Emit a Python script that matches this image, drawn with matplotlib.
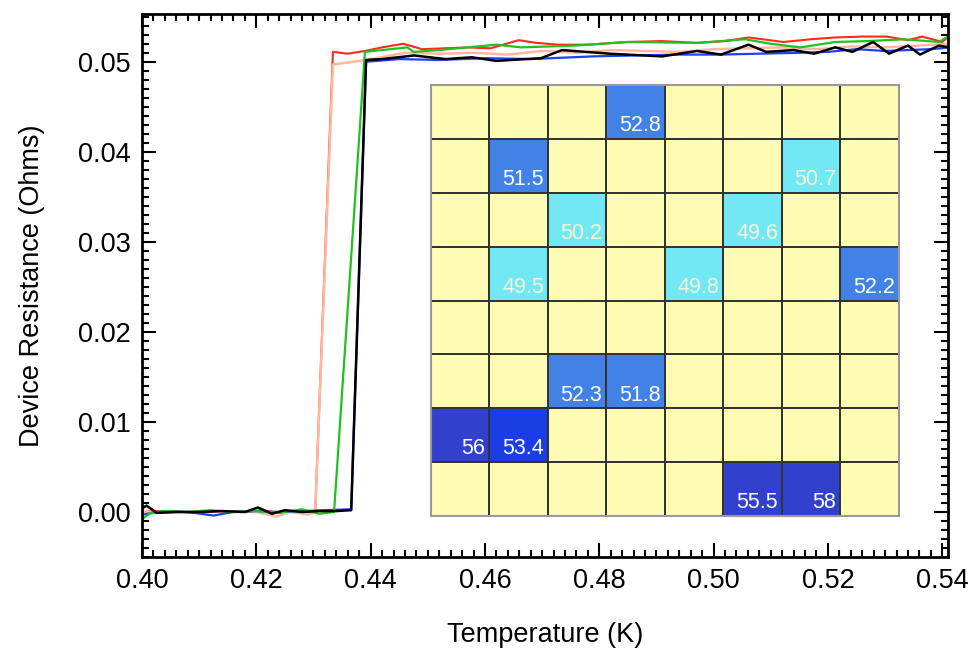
import numpy as np
import matplotlib
matplotlib.use('Agg')
import matplotlib.pyplot as plt
from matplotlib.ticker import MultipleLocator, AutoMinorLocator, FormatStrFormatter
from matplotlib.colors import ListedColormap, BoundaryNorm

plt.rcParams['font.family'] = ['Liberation Sans', 'DejaVu Sans']

# Кривые R(T)
red_x = [0.400, 0.403, 0.406, 0.409, 0.412, 0.415, 0.418, 0.421, 0.424, 0.427, 0.4295, 0.4303,
         0.4334, 0.436, 0.439, 0.442, 0.4457, 0.449, 0.453, 0.457, 0.461, 0.4659, 0.469, 0.4728,
         0.478, 0.4849, 0.491, 0.4971, 0.502, 0.5061, 0.5122, 0.517, 0.5213, 0.526, 0.5303, 0.534,
         0.5365, 0.540, 0.5415]
red_y = [0.0000, 0.0001, 0.0000, -0.0001, 0.0000, 0.0001, 0.0000, 0.0002, -0.0001, 0.0001, 0.0000, 0.0000,
         0.0511, 0.0509, 0.0512, 0.0516, 0.0520, 0.0514, 0.0515, 0.0516, 0.0515, 0.0524, 0.0521, 0.0519,
         0.0519, 0.0522, 0.0523, 0.0521, 0.0523, 0.0527, 0.0522, 0.0525, 0.0527, 0.0528, 0.0528, 0.0524,
         0.0528, 0.0522, 0.0530]

salmon_x = [0.400, 0.404, 0.408, 0.412, 0.416, 0.420, 0.4235, 0.426, 0.429, 0.4303, 0.4334, 0.437,
            0.441, 0.446, 0.452, 0.458, 0.464, 0.470, 0.476, 0.482, 0.488, 0.494, 0.500, 0.506, 0.512,
            0.518, 0.524, 0.530, 0.536, 0.5415]
salmon_y = [0.0000, -0.0001, 0.0000, 0.0001, 0.0000, 0.0000, -0.0005, 0.0000, -0.0003, 0.0000, 0.0497, 0.0500,
            0.0504, 0.0510, 0.0509, 0.0510, 0.0508, 0.0512, 0.0510, 0.0513, 0.0512, 0.0511, 0.0514, 0.0515, 0.0516,
            0.0514, 0.0517, 0.0516, 0.0518, 0.0520]

green_x = [0.400, 0.4015, 0.404, 0.408, 0.412, 0.416, 0.420, 0.424, 0.428, 0.431, 0.4336, 0.4390,
           0.442, 0.4464, 0.4475, 0.452, 0.457, 0.462, 0.4663, 0.4759, 0.4849, 0.4971, 0.5055, 0.5100,
           0.5152, 0.5213, 0.527, 0.5334, 0.5394, 0.5415]
green_y = [-0.0008, -0.0001, 0.0001, 0.0000, 0.0002, 0.0000, 0.0001, -0.0001, 0.0003, -0.0002, 0.0000, 0.0511,
           0.0513, 0.0516, 0.0511, 0.0513, 0.0516, 0.0519, 0.0516, 0.0518, 0.0522, 0.0521, 0.0525, 0.0520,
           0.0516, 0.0522, 0.0523, 0.0525, 0.0522, 0.0530]

blue_x = [0.400, 0.404, 0.408, 0.4125, 0.416, 0.420, 0.424, 0.428, 0.432, 0.4366, 0.4392, 0.445,
          0.452, 0.460, 0.468, 0.4789, 0.486, 0.494, 0.5013, 0.508, 0.5150, 0.520, 0.5250, 0.530,
          0.5380, 0.5415]
blue_y = [-0.0003, 0.0001, 0.0000, -0.0004, 0.0000, 0.0001, 0.0000, 0.0001, 0.0002, 0.0003, 0.0500, 0.0503,
          0.0502, 0.0504, 0.0503, 0.0506, 0.0507, 0.0508, 0.0508, 0.0509, 0.0510, 0.0511, 0.0514, 0.0512,
          0.0514, 0.0516]

black_x = [0.400, 0.4008, 0.4026, 0.406, 0.410, 0.414, 0.418, 0.4203, 0.4227, 0.425, 0.428, 0.431,
           0.434, 0.4366, 0.4392, 0.442, 0.4476, 0.4531, 0.4577, 0.4620, 0.4698, 0.4735, 0.4818, 0.4910,
           0.4971, 0.5013, 0.5061, 0.5092, 0.5140, 0.5176, 0.5213, 0.5243, 0.5279, 0.5307, 0.5340, 0.5361,
           0.5394, 0.5412]
black_y = [0.0004, 0.0007, -0.0001, 0.0000, 0.0000, 0.0001, 0.0000, 0.0005, -0.0002, 0.0002, 0.0000, 0.0001,
           0.0001, 0.0002, 0.0502, 0.0503, 0.0507, 0.0503, 0.0505, 0.0501, 0.0504, 0.0513, 0.0509, 0.0506,
           0.0512, 0.0508, 0.0519, 0.0511, 0.0513, 0.0509, 0.0516, 0.0511, 0.0522, 0.0509, 0.0518, 0.0508,
           0.0518, 0.0516]

# Карта 8x8: (строка сверху, столбец, значение)
map_rows = [0, 1, 1, 2, 2, 3, 3, 3, 5, 5, 6, 6, 7, 7]
map_cols = [3, 1, 6, 2, 5, 1, 4, 7, 2, 3, 0, 1, 5, 6]
map_vals = [52.8, 51.5, 50.7, 50.2, 49.6, 49.5, 49.8, 52.2, 52.3, 51.8, 56, 53.4, 55.5, 58]

fig = plt.figure(figsize=(9.68, 6.51), dpi=100)
ax = fig.add_axes([0.1467, 0.1444, 0.8326, 0.834])

ax.plot(red_x, red_y, color='#ff2a1a', lw=1.5)
ax.plot(salmon_x, salmon_y, color='#ffb8a0', lw=1.8)
ax.plot(blue_x, blue_y, color='#1f3fff', lw=1.6)
ax.plot(green_x, green_y, color='#1fc21f', lw=1.6)
ax.plot(black_x, black_y, color='black', lw=1.8)

ax.set_xlim(0.40, 0.541)
ax.set_ylim(-0.005, 0.0553)
ax.xaxis.set_major_locator(MultipleLocator(0.02))
ax.xaxis.set_minor_locator(AutoMinorLocator(10))
ax.yaxis.set_major_locator(MultipleLocator(0.01))
ax.yaxis.set_minor_locator(AutoMinorLocator(10))
ax.xaxis.set_major_formatter(FormatStrFormatter('%.2f'))
ax.yaxis.set_major_formatter(FormatStrFormatter('%.2f'))
ax.tick_params(which='both', direction='in', top=True, right=True, width=1.5, labelsize=19.5)
ax.tick_params(which='major', length=10, pad=8)
ax.tick_params(which='minor', length=5)
for sp in ax.spines.values():
    sp.set_linewidth(2)
ax.set_xlabel('Temperature (K)', fontsize=19.5, labelpad=20)
ax.set_ylabel('Device Resistance (Ohms)', fontsize=19.5, labelpad=24)

# Вставка: карта ячеек
grid = np.full((8, 8), np.nan)
for r, c, v in zip(map_rows, map_cols, map_vals):
    grid[r, c] = v
cmap = ListedColormap(['#72e8f5', '#4282e6', '#1a3de6', '#3241cd'])
cmap.set_bad('#fefcb4')
norm = BoundaryNorm([49, 51, 53, 54, 60], cmap.N)

ins = fig.add_axes([0.4452, 0.2074, 0.4835, 0.662])
ins.pcolormesh(np.ma.masked_invalid(grid), cmap=cmap, norm=norm,
               edgecolors='#333333', linewidth=1.2)
ins.set_xlim(0, 8)
ins.set_ylim(8, 0)
ins.set_xticks([])
ins.set_yticks([])
for sp in ins.spines.values():
    sp.set_color('#999999')
    sp.set_linewidth(1.5)
for r, c, v in zip(map_rows, map_cols, map_vals):
    txt_color = '#f2f6d4' if v < 51 else 'white'
    ins.text(c + 0.93, r + 0.95, f'{v:g}', ha='right', va='bottom',
             fontsize=15.5, color=txt_color)

fig.savefig('out.png', dpi=100)
